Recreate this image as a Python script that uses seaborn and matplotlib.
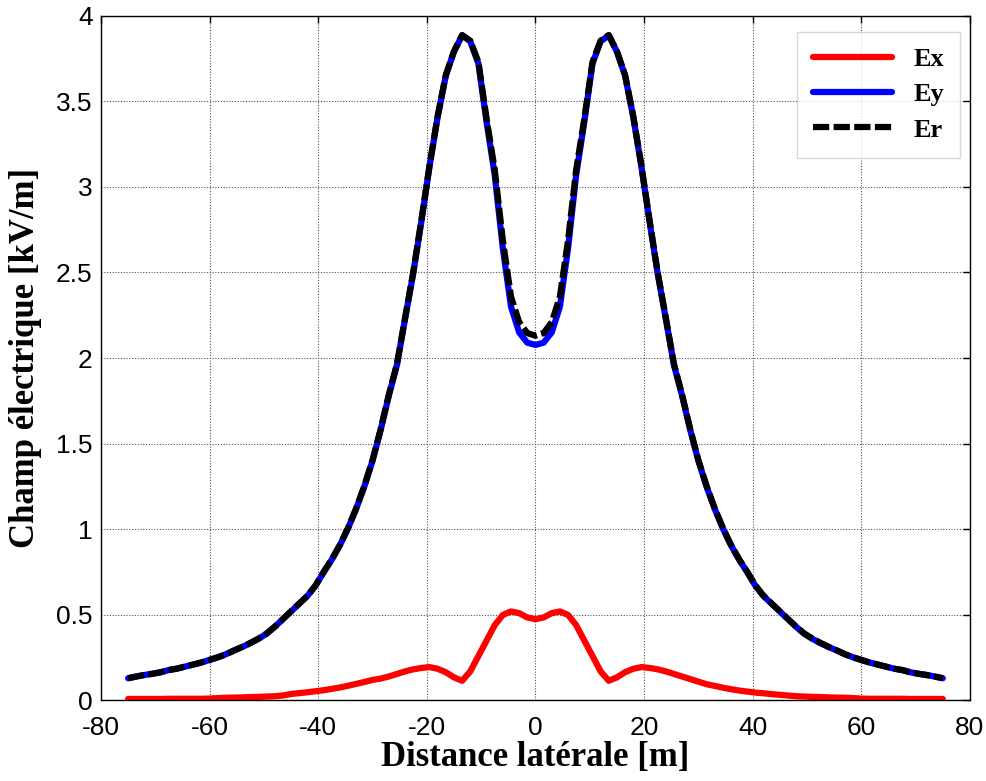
import numpy as np
import pandas as pd
import matplotlib
matplotlib.use("Agg")
import matplotlib.pyplot as plt
import seaborn as sns

# Lateral distance from the line axis [m]
distance = np.linspace(-75, 75, 101)

# Horizontal component of the electric field [kV/m]
ex = [
    0.009, 0.009, 0.009, 0.009, 0.009, 0.010, 0.010, 0.010, 0.010, 0.010,
    0.011, 0.014, 0.016, 0.017, 0.018, 0.020, 0.021, 0.023, 0.025, 0.029,
    0.038, 0.043, 0.048, 0.054, 0.060, 0.068, 0.076, 0.086, 0.097, 0.108,
    0.120, 0.128, 0.140, 0.155, 0.170, 0.182, 0.190, 0.195, 0.185, 0.165,
    0.135, 0.115, 0.170, 0.260, 0.350, 0.440, 0.500, 0.520, 0.510, 0.485,
    0.475,
    0.485, 0.510, 0.520, 0.500, 0.440, 0.350, 0.260, 0.170, 0.115, 0.135,
    0.165, 0.185, 0.195, 0.190, 0.182, 0.170, 0.155, 0.140, 0.125, 0.110,
    0.095, 0.085, 0.075, 0.066, 0.058, 0.052, 0.046, 0.042, 0.037, 0.033,
    0.029, 0.025, 0.023, 0.021, 0.020, 0.018, 0.017, 0.016, 0.014, 0.011,
    0.010, 0.010, 0.010, 0.010, 0.010, 0.009, 0.009, 0.009, 0.009, 0.009,
]

# Vertical component [kV/m]
ey = [
    0.130, 0.140, 0.149, 0.156, 0.165, 0.178, 0.186, 0.198, 0.210, 0.222,
    0.237, 0.252, 0.270, 0.292, 0.312, 0.335, 0.360, 0.390, 0.430, 0.475,
    0.520, 0.565, 0.610, 0.670, 0.749, 0.823, 0.907, 1.006, 1.120, 1.250,
    1.400, 1.580, 1.780, 1.960, 2.230, 2.495, 2.800, 3.120, 3.410, 3.650,
    3.790, 3.885, 3.850, 3.720, 3.380, 3.070, 2.640, 2.300, 2.150, 2.090,
    2.077,
    2.090, 2.150, 2.300, 2.640, 3.070, 3.380, 3.720, 3.850, 3.885, 3.790,
    3.650, 3.410, 3.120, 2.800, 2.495, 2.230, 1.960, 1.780, 1.580, 1.400,
    1.250, 1.120, 1.006, 0.907, 0.823, 0.749, 0.670, 0.610, 0.565, 0.520,
    0.475, 0.430, 0.390, 0.360, 0.335, 0.312, 0.292, 0.270, 0.252, 0.237,
    0.222, 0.210, 0.198, 0.186, 0.178, 0.165, 0.156, 0.149, 0.140, 0.130,
]

# Resultant field [kV/m]
er = [
    0.130, 0.140, 0.149, 0.156, 0.165, 0.178, 0.186, 0.198, 0.210, 0.222,
    0.237, 0.252, 0.270, 0.292, 0.313, 0.336, 0.361, 0.391, 0.431, 0.476,
    0.521, 0.566, 0.611, 0.672, 0.751, 0.825, 0.909, 1.009, 1.123, 1.254,
    1.404, 1.585, 1.786, 1.966, 2.236, 2.502, 2.806, 3.126, 3.415, 3.654,
    3.792, 3.887, 3.854, 3.729, 3.398, 3.101, 2.687, 2.358, 2.210, 2.146,
    2.131,
    2.146, 2.210, 2.358, 2.687, 3.101, 3.398, 3.729, 3.854, 3.887, 3.792,
    3.654, 3.415, 3.126, 2.806, 2.502, 2.236, 1.966, 1.786, 1.585, 1.404,
    1.254, 1.123, 1.009, 0.909, 0.825, 0.751, 0.672, 0.611, 0.566, 0.521,
    0.476, 0.431, 0.391, 0.361, 0.336, 0.313, 0.292, 0.270, 0.252, 0.237,
    0.222, 0.210, 0.198, 0.186, 0.178, 0.165, 0.156, 0.149, 0.140, 0.130,
]

series_names = ["Ex", "Ey", "Er"]
x_ticks = [-80, -60, -40, -20, 0, 20, 40, 60, 80]
y_ticks = [0, 0.5, 1, 1.5, 2, 2.5, 3, 3.5, 4]
y_tick_labels = ["0", "0.5", "1", "1.5", "2", "2.5", "3", "3.5", "4"]

df = pd.concat([
    pd.DataFrame({"x": distance, "E": vals, "comp": name})
    for name, vals in zip(series_names, [ex, ey, er])
], ignore_index=True)

sns.set_style("white")
plt.rcParams["font.family"] = ["Liberation Sans Narrow", "Liberation Sans", "DejaVu Sans"]
plt.rcParams["text.color"] = "black"
plt.rcParams["axes.labelcolor"] = "black"

fig = plt.figure(figsize=(9.86, 7.81), dpi=100)
ax = fig.add_axes([0.1024, 0.1031, 0.8813, 0.8768])

palette = {"Ex": "#ff0000", "Ey": "#0000ff", "Er": "#000000"}
dashes = {"Ex": "", "Ey": "", "Er": (2.6, 0.7)}
sns.lineplot(data=df, x="x", y="E", hue="comp", style="comp",
             palette=palette, dashes=dashes, hue_order=series_names,
             style_order=series_names, linewidth=4.5, sort=False,
             estimator=None, ax=ax, legend=True)

ax.set_xlim(-80, 80)
ax.set_ylim(0, 4)
ax.set_xticks(x_ticks)
ax.set_xticklabels([str(t) for t in x_ticks])
ax.set_yticks(y_ticks)
ax.set_yticklabels(y_tick_labels)
ax.tick_params(direction="in", top=True, right=True, length=5, width=1,
               labelsize=19, colors="black")
ax.tick_params(axis="x", pad=11)
ax.tick_params(axis="y", pad=6)
ax.grid(True, linestyle=(0, (1, 1.5)), color="#555555", linewidth=0.8)
for sp in ax.spines.values():
    sp.set_visible(True)
    sp.set_color("black")
    sp.set_linewidth(1.0)

serif = ["Liberation Serif", "DejaVu Serif"]
ax.set_xlabel("Distance latérale [m]", fontsize=25, fontweight="bold",
              family=serif, labelpad=1, color="black")
ax.set_ylabel("Champ électrique [kV/m]", fontsize=25, fontweight="bold",
              family=serif, labelpad=10, color="black")

handles, labels = ax.get_legend_handles_labels()
leg = ax.legend(handles, labels, loc="upper right",
                bbox_to_anchor=(0.9885, 0.9766), borderaxespad=0,
                prop={"family": serif, "weight": "bold", "size": 19},
                handlelength=3.0, labelspacing=0.45, handletextpad=0.8,
                borderpad=0.6, frameon=True, fancybox=False)
leg.get_frame().set_edgecolor("#d0d0d0")
leg.get_frame().set_linewidth(1.0)
for line in leg.get_lines():
    line.set_linewidth(4.5)

fig.savefig("out.png", dpi=100)
